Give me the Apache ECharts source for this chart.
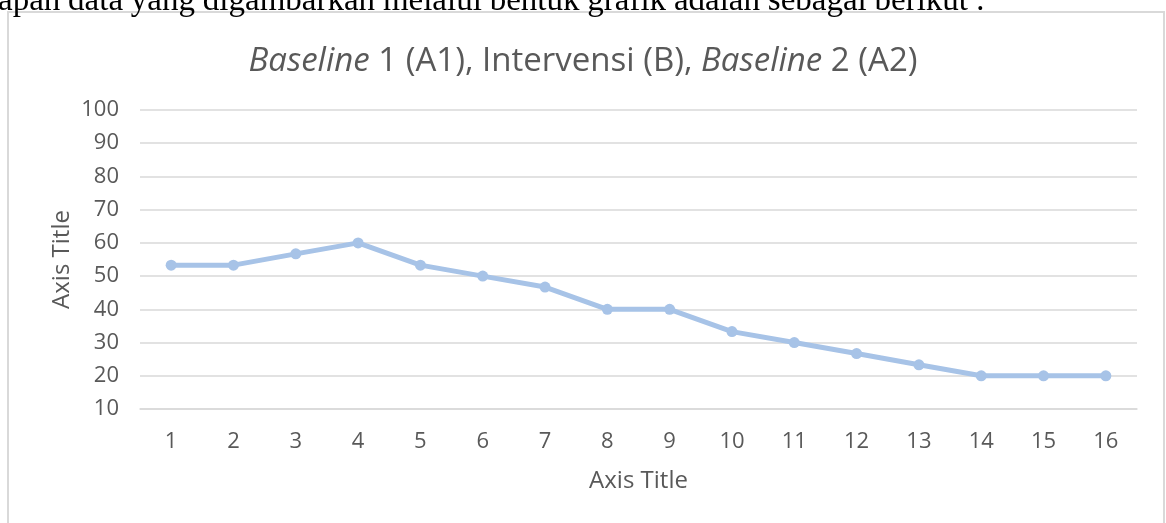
<!DOCTYPE html>
<html><head><meta charset="utf-8">
<script src="https://cdn.jsdelivr.net/npm/echarts@6/dist/echarts.min.js"></script>
<style>html,body{margin:0;padding:0;background:#fff}#c{width:1166px;height:523px}</style>
</head><body><div id="c"></div>
<script>
const categories = ['1','2','3','4','5','6','7','8','9','10','11','12','13','14','15','16'];
const values = [53.3,53.3,56.7,60,53.3,50,46.7,40,40,33.3,30,26.7,23.3,20,20,20];
const yTicks = {min:10, max:100, interval:10};
const titleParts = ['Baseline', ' 1 (A1), Intervensi (B), ', 'Baseline', ' 2 (A2)'];
const topWords = ['apan','data','yang','digambarkan','melalui','bentuk','grafik','adalah','sebagai','berikut',':'];

const chart = echarts.init(document.getElementById('c'), null, {renderer:'canvas'});
const FONT = '"Open Sans"';
const GREY = '#595959';

// page text above the chart, cut by the crop (justified line)
const serifFont = '33px "Liberation Serif"';
const ctx = document.createElement('canvas').getContext('2d');
ctx.font = serifFont;
const widths = topWords.map(w => ctx.measureText(w).width);
const lineStart = -2, lineEnd = 985;
const totalW = widths.reduce((a,b)=>a+b,0);
const gap = Math.max(4, (lineEnd - lineStart - totalW) / (topWords.length - 1));
const wordGraphics = [];
let cx = lineStart;
topWords.forEach((w,i) => {
  wordGraphics.push({type:'text',x:cx,y:1,silent:true,
    style:{text:w,font:serifFont,fill:'#000',verticalAlign:'middle',align:'left'}});
  cx += widths[i] + gap;
});

chart.setOption({
  backgroundColor:'#fff',
  animation:false,
  title:{
    text:'{i|'+titleParts[0]+'}{n|'+titleParts[1]+'}{i|'+titleParts[2]+'}{n|'+titleParts[3]+'}',
    left:'center', top:40,
    textStyle:{fontWeight:'normal',rich:{
      i:{fontFamily:FONT,fontStyle:'italic',fontWeight:'normal',fontSize:33,color:GREY},
      n:{fontFamily:FONT,fontWeight:'normal',fontSize:33,color:GREY}
    }}
  },
  graphic:[
    {type:'rect',shape:{x:8,y:12,width:1156,height:530},style:{fill:'none',stroke:'#d9d9d9',lineWidth:2},silent:true,z:-1}
  ].concat(wordGraphics),
  grid:{left:140,right:29,top:110,bottom:114,containLabel:false},
  xAxis:{
    type:'category',data:categories,boundaryGap:true,
    name:'Axis Title',nameLocation:'middle',nameGap:60,
    nameTextStyle:{fontFamily:FONT,fontSize:24,color:GREY},
    axisLine:{show:true,lineStyle:{color:'#d9d9d9',width:1.5}},
    axisTick:{show:false},
    axisLabel:{fontFamily:FONT,fontSize:22,color:GREY,margin:22},
    splitLine:{show:false}
  },
  yAxis:{
    type:'value',min:yTicks.min,max:yTicks.max,interval:yTicks.interval,
    name:'Axis Title',nameLocation:'middle',nameGap:66,nameMoveOverlap:false,
    nameTextStyle:{fontFamily:FONT,fontSize:24,color:GREY},
    axisLine:{show:false},axisTick:{show:false},
    axisLabel:{fontFamily:FONT,fontSize:22,color:GREY,margin:21},
    splitLine:{show:true,lineStyle:{color:'#d9d9d9',width:1.5}}
  },
  series:[{
    type:'line',data:values,
    symbol:'circle',symbolSize:11,
    lineStyle:{color:'#a7c3e7',width:5},
    itemStyle:{color:'#a7c3e7'}
  }]
});
</script></body></html>
